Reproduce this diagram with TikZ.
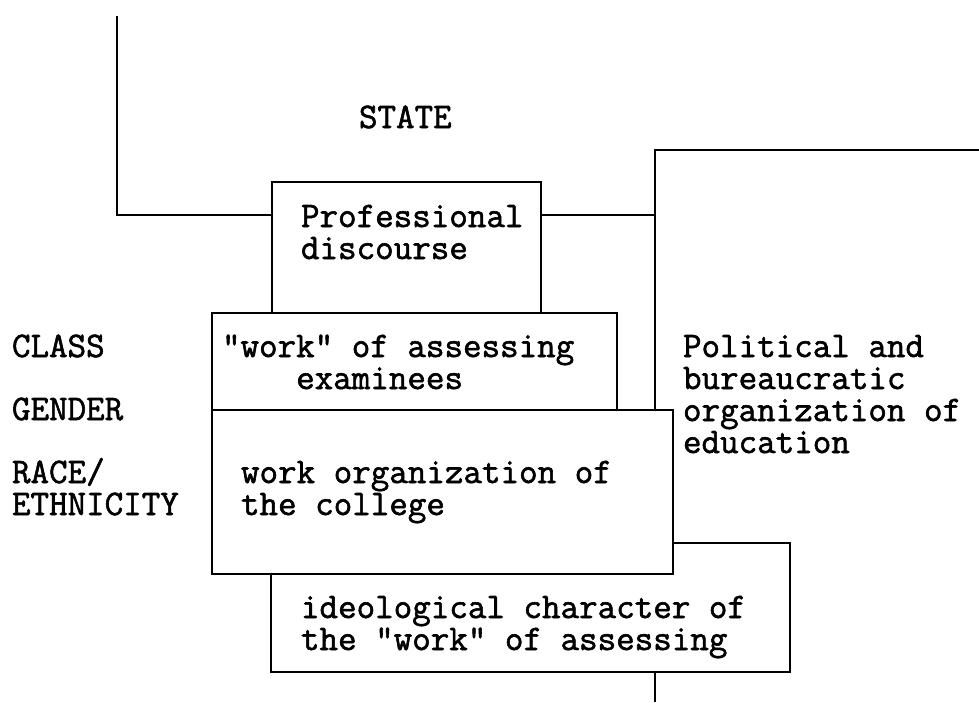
\documentclass[tikz,border=0pt]{standalone}
\usepackage{fontspec}
\setmonofont[FakeBold=1.6]{Latin Modern Mono}
\begin{document}
\begin{tikzpicture}[x=1pt,y=-1pt,
  every node/.style={inner sep=0pt,outer sep=0pt},
  box/.style={draw,line width=2.6pt,fill=white,rectangle},
  lbl/.style={anchor=base west,align=left,font=\ttfamily\fontsize{36}{32}\selectfont},
  conn/.style={line width=2.6pt}]
\useasboundingbox (0,0) rectangle (979,702);

% boxes, back to front
\node[box,minimum width=519pt,minimum height=129pt] (ideo) at (530.5,607.5) {};
\node[box,minimum width=269pt,minimum height=131pt] (prof) at (406.5,247.5) {};
\node[box,minimum width=405pt,minimum height=97pt]  (exam) at (414.5,361.5) {};
\node[box,minimum width=461pt,minimum height=164pt] (work) at (442.5,492) {};

% free ends and bends of the outer lines
\coordinate (statetop) at (117,16);
\coordinate (lnk) at (0,215);
\coordinate (polcorner) at (655,150);
\coordinate (polend) at (979,150);
\coordinate (botend) at (655,702);

% connectors
\draw[conn] (statetop) |- (prof.west |- lnk);
\draw[conn] (prof.east |- lnk) -- (polcorner |- lnk);
\draw[conn] (polend) -- (polcorner) -- (polcorner |- work.north);
\draw[conn] (ideo.south -| polcorner) -- (botend);

% texts (base anchor sits on the last line)
\node[lbl] (state) at (359,128) {STATE};
\node[lbl] (proftxt) at (301,259) {Professional\\discourse};
\node[lbl] (class) at (12,357) {CLASS};
\node[lbl] (gender) at (12,420) {GENDER};
\node[lbl] (race) at (12,515) {RACE/\\ETHNICITY};
\node[lbl] (examtxt) at (222,389) {"work" of assessing\\\phantom{wwww}examinees};
\node[lbl] (poltxt) at (683,453) {Political and\\bureaucratic\\organization of\\education};
\node[lbl] (worktxt) at (241,515) {work organization of\\the college};
\node[lbl] (ideotxt) at (301,650) {ideological character of\\the "work" of assessing};
\end{tikzpicture}
\end{document}
